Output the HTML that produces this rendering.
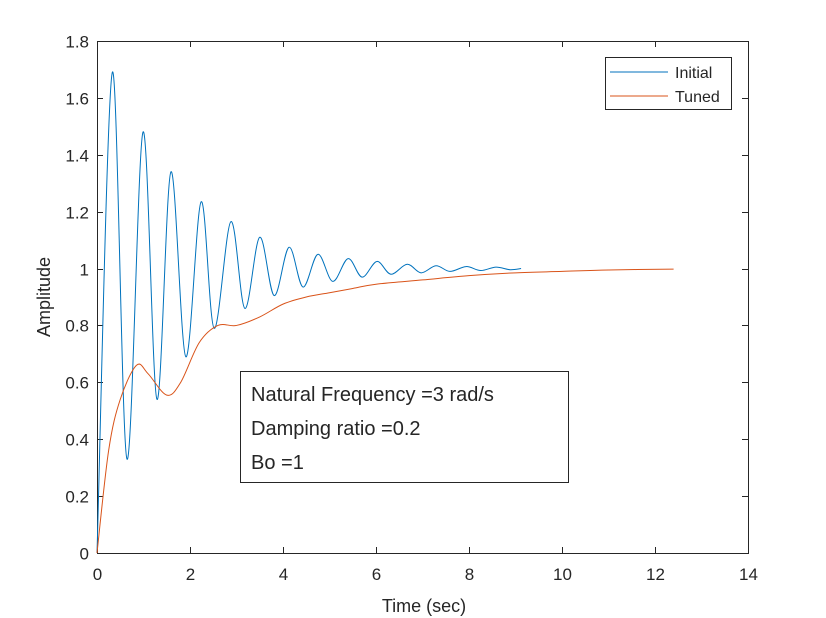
<!DOCTYPE html>
<html><head><meta charset="utf-8"><style>
body{margin:0;background:#fff;}
svg{display:block;font-family:"Liberation Sans",Arial,sans-serif;}
</style></head><body>
<svg id="chart" width="826" height="618">
<rect width="826" height="618" fill="#fff"/>
<g id="axes"></g>
<g id="series"></g>
<g>
<rect x="240.5" y="371.5" width="328" height="111" fill="#fff" stroke="#262626" stroke-width="1"/>
<text x="251" y="401" font-size="20" fill="#262626">Natural Frequency =3 rad/s</text>
<text x="251" y="435" font-size="20" fill="#262626">Damping ratio =0.2</text>
<text x="251" y="469" font-size="20" fill="#262626">Bo =1</text>
</g>
<g>
<rect x="605.5" y="57.5" width="126" height="52" fill="#fff" stroke="#262626" stroke-width="1"/>
<line x1="610" y1="72" x2="668" y2="72" stroke="#0072bd" stroke-width="1"/>
<text x="675" y="78" font-size="16" fill="#262626">Initial</text>
<line x1="610" y1="96" x2="668" y2="96" stroke="#d95319" stroke-width="1"/>
<text x="675" y="102" font-size="16" fill="#262626">Tuned</text>
</g>
<text x="424" y="612" font-size="18" fill="#262626" text-anchor="middle">Time (sec)</text>
<text transform="translate(50,297) rotate(-90)" font-size="18" fill="#262626" text-anchor="middle">Amplitude</text>
</svg>
<script>
const xTicks=[0,2,4,6,8,10,12,14];
const yTicks=[0,0.2,0.4,0.6,0.8,1,1.2,1.4,1.6,1.8];
const yTickLabels=["0","0.2","0.4","0.6","0.8","1","1.2","1.4","1.6","1.8"];
const initialT=[0,0.33,0.645,0.99,1.29,1.59,1.91,2.24,2.52,2.88,3.18,3.5,3.81,4.13,4.43,4.75,5.07,5.4,5.7,6.02,6.32,6.67,6.97,7.29,7.59,7.94,8.25,8.58,8.88,9.12];
const initialV=[0,1.69,0.33,1.48,0.54,1.34,0.69,1.235,0.79,1.165,0.86,1.11,0.905,1.075,0.935,1.05,0.955,1.035,0.97,1.025,0.98,1.015,0.985,1.01,0.99,1.007,0.993,1.005,0.996,1.0];
const tunedT=[0,0.25,0.5,0.85,1.1,1.5,1.8,2.2,2.6,3.0,3.5,4.0,4.5,5.0,5.5,6.0,7,8,9,10,11,12.4];
const tunedV=[0,0.36,0.54,0.66,0.63,0.555,0.6,0.74,0.8,0.8,0.83,0.875,0.9,0.915,0.93,0.945,0.96,0.975,0.985,0.99,0.995,0.998];
const X0=97,X1=748,Y0=553,Y1=41,XMAX=14,YMAX=1.8;
const sx=t=>X0+t*(X1-X0)/XMAX, sy=v=>Y0-v*(Y0-Y1)/YMAX;
const NS="http://www.w3.org/2000/svg";
const ax=document.getElementById('axes'), se=document.getElementById('series');
function mk(tag,at,parent){const e=document.createElementNS(NS,tag);for(const k in at)e.setAttribute(k,at[k]);parent.appendChild(e);return e;}
const box=mk('rect',{x:X0+0.5,y:Y1+0.5,width:X1-X0,height:Y0-Y1,fill:'none',stroke:'#262626','stroke-width':1},ax);


xTicks.forEach(t=>{const x=Math.round(sx(t))+0.5;
 mk('line',{x1:x,y1:Y0,x2:x,y2:Y0-6,stroke:'#262626'},ax);
 mk('line',{x1:x,y1:Y1,x2:x,y2:Y1+6,stroke:'#262626'},ax);
 const l=mk('text',{x:x,y:Y0+27,'font-size':17,fill:'#262626','text-anchor':'middle'},ax);l.textContent=t;
 
 });
yTicks.forEach((v,i)=>{const y=Math.round(sy(v))+0.5;
 mk('line',{x1:X0,y1:y,x2:X0+6,y2:y,stroke:'#262626'},ax);
 mk('line',{x1:X1,y1:y,x2:X1-6,y2:y,stroke:'#262626'},ax);
 const l=mk('text',{x:X0-8,y:y+6,'font-size':17,fill:'#262626','text-anchor':'end'},ax);l.textContent=yTickLabels[i];
 
 });
function smooth(T,V){const p=T.map((t,i)=>[sx(t),sy(V[i])]);let d='M'+p[0][0]+','+p[0][1];
 for(let i=0;i<p.length-1;i++){const a=p[i-1]||p[i],b=p[i],c=p[i+1],e=p[i+2]||c;
  const c1=[b[0]+(c[0]-a[0])/6,b[1]+(c[1]-a[1])/6],c2=[c[0]-(e[0]-b[0])/6,c[1]-(e[1]-b[1])/6];
  d+=' C'+c1+' '+c2+' '+c;}return d;}
const l1=mk('path',{d:smooth(initialT,initialV),fill:'none',stroke:'#0072bd','stroke-width':1},se);


const l2=mk('path',{d:smooth(tunedT,tunedV),fill:'none',stroke:'#d95319','stroke-width':1},se);


</script>
</body></html>
